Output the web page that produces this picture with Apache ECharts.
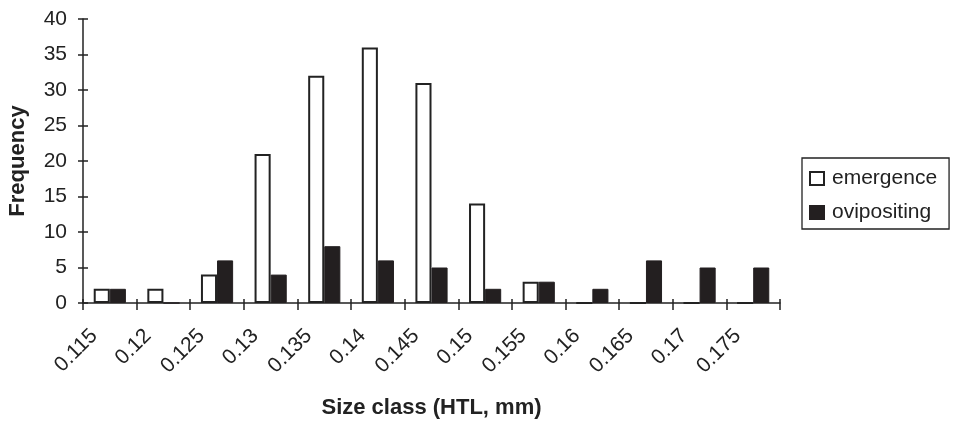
<!DOCTYPE html>
<html><head><meta charset="utf-8">
<script src="https://cdn.jsdelivr.net/npm/echarts@6/dist/echarts.min.js"></script>
<style>html,body{margin:0;padding:0;background:#fff}#c{width:955px;height:423px}</style>
</head><body><div id="c"></div>
<script>
var categories = ['0.115','0.12','0.125','0.13','0.135','0.14','0.145','0.15','0.155','0.16','0.165','0.17','0.175'];
var emergence = [2,2,4,21,32,36,31,14,3,0,0,0,0];
var ovipositing = [2,0,6,4,8,6,5,2,3,2,6,5,5];
var yTicks = [0,5,10,15,20,25,30,35,40];

var font = 'Liberation Sans, Arial, sans-serif';
var ink = '#222';
var chart = echarts.init(document.getElementById('c'));
chart.setOption({
  animation:false,
  grid:{left:83,top:19,width:697,height:284,containLabel:false,outerBoundsMode:'none'},
  legend:{
    orient:'vertical', left:802, top:158,
    padding:[10,12,6,7], itemGap:13, itemWidth:14, itemHeight:13,
    borderColor:ink, borderWidth:1.3,
    textStyle:{fontFamily:font,fontSize:21,color:ink,padding:[0,0,0,3]},
    data:[{name:'emergence',icon:'rect'},{name:'ovipositing',icon:'rect'}]
  },
  xAxis:[{
    type:'category', data:categories,
    name:'Size class (HTL, mm)', nameLocation:'middle', nameGap:94, nameMoveOverlap:false,
    nameTextStyle:{fontFamily:font,fontSize:22,fontWeight:'bold',color:ink},
    axisLine:{lineStyle:{color:ink,width:1.5}},
    axisTick:{show:true,length:7,lineStyle:{color:ink,width:1.5}},
    axisLabel:{rotate:45,fontFamily:font,fontSize:21,color:ink,margin:14,interval:0,padding:[0,22,0,0]}
  },{
    type:'category', data:categories, position:'bottom', gridIndex:0,
    axisLine:{show:false}, axisLabel:{show:false},
    axisTick:{show:true,inside:true,length:4,lineStyle:{color:ink,width:1.5}}
  }],
  yAxis:[{
    type:'value', min:0, max:40, interval:5,
    name:'Frequency', nameLocation:'middle', nameGap:54, nameRotate:90, nameMoveOverlap:false,
    nameTextStyle:{fontFamily:font,fontSize:22,fontWeight:'bold',color:ink},
    axisLine:{show:true,lineStyle:{color:ink,width:1.5}},
    axisTick:{show:true,length:5,lineStyle:{color:ink,width:1.5}},
    splitLine:{show:false},
    axisLabel:{fontFamily:font,fontSize:21,color:ink,margin:16,
      formatter:function(v){return yTicks.indexOf(v)>=0?String(v):'';}}
  },{
    type:'value', min:0, max:40, interval:5, position:'left',
    axisLine:{show:false}, axisLabel:{show:false}, splitLine:{show:false},
    axisTick:{show:true,inside:true,length:5,lineStyle:{color:ink,width:1.5}}
  }],
  series:[
    {name:'emergence',type:'bar',data:emergence,barGap:'0%',barCategoryGap:'40%',
     itemStyle:{color:'#fff',borderColor:ink,borderWidth:2}},
    {name:'ovipositing',type:'bar',data:ovipositing,
     itemStyle:{color:'#231f20',borderColor:'#231f20',borderWidth:1}}
  ]
});
</script></body></html>
